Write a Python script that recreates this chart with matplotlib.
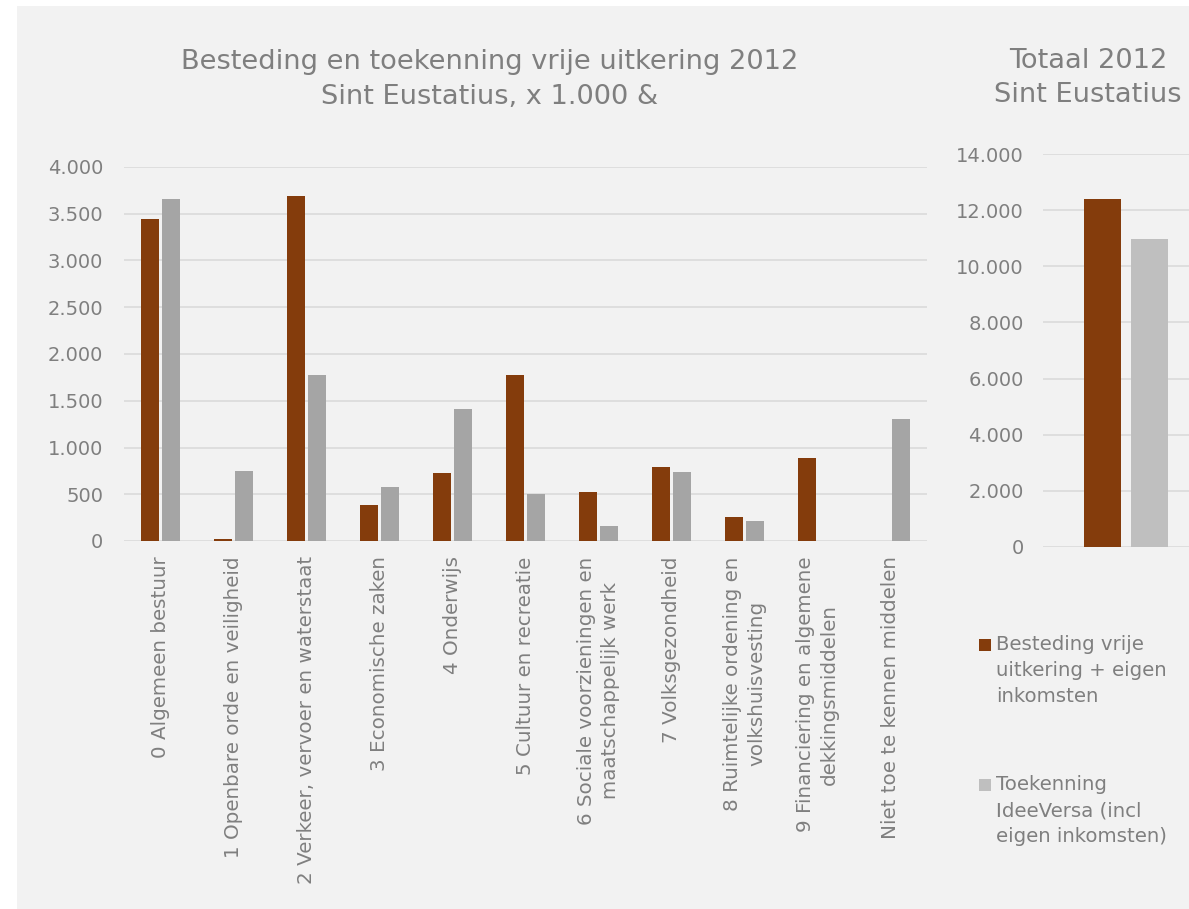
import matplotlib
matplotlib.use("Agg")
from matplotlib import pyplot as plt
from matplotlib.patches import Rectangle
from matplotlib.ticker import FuncFormatter
import numpy as np

# data, x 1.000
categories = ["0 Algemeen bestuur",
              "1 Openbare orde en veiligheid",
              "2 Verkeer, vervoer en waterstaat",
              "3 Economische zaken",
              "4 Onderwijs",
              "5 Cultuur en recreatie",
              "6 Sociale voorzieningen en\nmaatschappelijk werk",
              "7 Volksgezondheid",
              "8 Ruimtelijke ordening en\nvolkshuisvesting",
              "9 Financiering en algemene\ndekkingsmiddelen",
              "Niet toe te kennen middelen"]
besteding = [3440, 20, 3692, 387, 728, 1776, 526, 794, 252, 892, 0]
toekenning = [3654, 752, 1775, 581, 1412, 502, 161, 742, 218, 0, 1300]
totaal_besteding = 12410
totaal_toekenning = 10985
legend_labels = ["Besteding vrije\nuitkering + eigen\ninkomsten",
                 "Toekenning\nIdeeVersa (incl\neigen inkomsten)"]

brown = "#843C0C"
gray = "#A5A5A5"
gray_light = "#BFBFBF"
text_col = "#7F7F7F"
grid_col = "#DCDCDC"
bg = "#F2F2F2"

plt.rcParams["font.family"] = ["DejaVu Sans"]

fig = plt.figure(figsize=(11.89, 9.09), dpi=100)
fig.patch.set_facecolor("white")
fig.patches.append(Rectangle((17 / 1189, 0), 1, 1 - 6 / 909, transform=fig.transFigure,
                             facecolor=bg, edgecolor="none", zorder=-10))

fmt = FuncFormatter(lambda v, p: "{:,.0f}".format(v).replace(",", "."))

# main chart
ax = fig.add_axes([124 / 1189, 1 - 541 / 909, 803 / 1189, 374 / 909])
ax.set_facecolor(bg)
x = np.arange(len(categories))
ax.bar(x - 0.142, besteding, width=0.25, color=brown, zorder=3)
ax.bar(x + 0.142, toekenning, width=0.25, color=gray, zorder=3)
ax.set_xlim(-0.5, len(categories) - 0.5)
ax.set_ylim(0, 4000)
ax.set_yticks(np.arange(0, 4001, 500))
ax.yaxis.set_major_formatter(fmt)
ax.grid(axis="y", color=grid_col, linewidth=1.3, zorder=0)
ax.set_xticks(x)
ax.set_xticklabels(categories, rotation=90, ha="center", va="top",
                   multialignment="center", fontsize=14.3, color=text_col,
                   linespacing=1.36)
for s in ax.spines.values():
    s.set_visible(False)
ax.tick_params(axis="y", length=0, pad=15, labelsize=14, labelcolor=text_col)
ax.tick_params(axis="x", length=0, pad=11)
fig.text(490 / 1189, 1 - 79.5 / 909,
         "Besteding en toekenning vrije uitkering 2012\nSint Eustatius, x 1.000 &",
         ha="center", va="center", fontsize=19.6, color=text_col, linespacing=1.42)

# totals chart
ax2 = fig.add_axes([1043 / 1189, 1 - 547 / 909, 146 / 1189, 393 / 909])
ax2.set_facecolor(bg)
ax2.bar([-0.1416], [totaal_besteding], width=0.223, color=brown, zorder=3)
ax2.bar([0.1416], [totaal_toekenning], width=0.223, color=gray_light, zorder=3)
ax2.set_xlim(-0.5, -0.5 + 146 / 166)
ax2.set_ylim(0, 14000)
ax2.set_yticks(np.arange(0, 14001, 2000))
ax2.yaxis.set_major_formatter(fmt)
ax2.grid(axis="y", color=grid_col, linewidth=1.3, zorder=0)
ax2.set_xticks([])
for s in ax2.spines.values():
    s.set_visible(False)
ax2.tick_params(axis="y", length=0, pad=14, labelsize=14, labelcolor=text_col)
fig.text(1088 / 1189, 1 - 78 / 909, "Totaal 2012\nSint Eustatius",
         ha="center", va="center", fontsize=19.6, color=text_col, linespacing=1.42)

# legend
for i, (lab, col) in enumerate(zip(legend_labels, [brown, gray_light])):
    top = [639, 779][i]
    fig.patches.append(Rectangle((979 / 1189, 1 - (top + 12) / 909), 12 / 1189, 12 / 909,
                                 transform=fig.transFigure, facecolor=col,
                                 edgecolor="none"))
    fig.text(996 / 1189, 1 - (top - 4) / 909, lab, ha="left", va="top",
             fontsize=14.2, color=text_col, linespacing=1.47)

fig.savefig("out.png", dpi=100, facecolor=fig.get_facecolor())
